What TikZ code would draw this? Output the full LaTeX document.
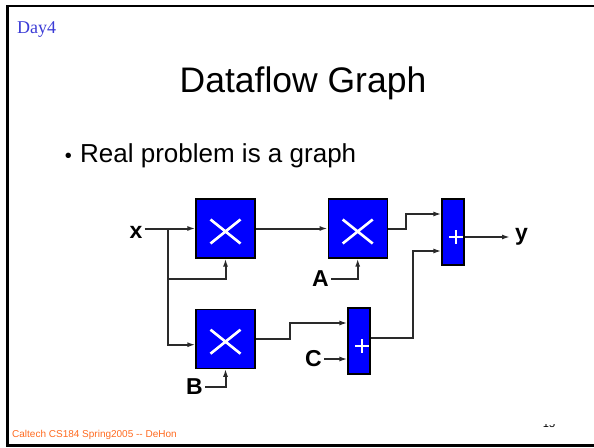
\documentclass[tikz,border=0pt]{standalone}
\usepackage{fontspec}
\setmainfont{Liberation Serif}
\newfontfamily\arial{Liberation Sans}
\usepackage{tikz}
\usetikzlibrary{positioning, arrows.meta, calc}
\definecolor{opblue}{HTML}{0000FF}
\definecolor{dayblue}{HTML}{3B3BD6}
\definecolor{footorange}{HTML}{FF6A1F}
\definecolor{wirecol}{HTML}{2A2A2A}
\tikzset{
  op mult/.style={
    draw=black, line width=1.2pt, fill=opblue,
    minimum width=59pt, minimum height=59pt, inner sep=0pt,
    path picture={
      \draw[white, line width=2.6pt]
        ([shift={(-15pt,9pt)}]path picture bounding box.center) --
        ([shift={(15pt,-15pt)}]path picture bounding box.center)
        ([shift={(-15pt,-15pt)}]path picture bounding box.center) --
        ([shift={(15pt,9pt)}]path picture bounding box.center);
    }
  },
  op add/.style={
    draw=black, line width=1.2pt, fill=opblue,
    minimum width=22pt, minimum height=66pt, inner sep=0pt,
    path picture={
      \draw[white, line width=2.8pt]
        ([shift={(-4pt,-5pt)}]path picture bounding box.center) --
        ([shift={(10pt,-5pt)}]path picture bounding box.center)
        ([shift={(3pt,2pt)}]path picture bounding box.center) --
        ([shift={(3pt,-12pt)}]path picture bounding box.center);
    }
  },
  wire/.style={line width=2pt, color=wirecol},
  wire in/.style={wire, -{Latex[length=8pt, width=5pt, fill=opblue]}},
  sig/.style={font=\arial\bfseries\fontsize{23}{23}\selectfont, inner sep=2pt},
  slide text/.style={inner sep=0pt, anchor=base west}
}
\begin{document}
\begin{tikzpicture}[x=1pt, y=-1pt]
  \useasboundingbox (0,0) rectangle (594,447);
  % slide frame
  \draw[line width=2.6pt] (600,6) -- (7.5,6) -- (7.5,445.5) -- (600,445.5);

  \node[slide text, font=\fontsize{18}{18}\selectfont, text=dayblue] (day) at (17,33) {Day4};
  \node[inner sep=0pt, anchor=base, font=\arial\fontsize{35.5}{35.5}\selectfont] (title) at (303,92) {Dataflow Graph};
  \node[slide text, font=\arial\fontsize{26}{26}\selectfont] (point) at (80,162) {Real problem is a graph};
  \node[inner sep=0pt, anchor=base east, font=\arial\fontsize{20}{20}\selectfont] (dot) at ([xshift=-8pt]point.base west) {•};

  % operators
  \node[op mult] (m1) at (225.5,228.5) {};
  \node[op mult, right=72pt of m1] (m2) {};
  \node[op mult, below=50pt of m1] (m3) {};
  \node[op add] (a1) at (453,232) {};
  \node[op add] (a2) at (359,341) {};

  % inputs and output
  \node[sig] (x) at (136,232) {x};
  \node[sig, anchor=east] (A) at (331,279) {A};
  \node[sig, anchor=east] (B) at (205,387) {B};
  \node[sig, anchor=east] (C) at (324,359) {C};
  \node[sig, anchor=west, inner sep=5pt] (y) at (510,237) {y};

  \coordinate (fork) at (168,229);
  \coordinate (tap) at (168,279);
  \coordinate (j1) at (406,214);
  \coordinate (j2) at (290,323);
  \coordinate (j3) at (413,251);
  \coordinate (sum) at ([yshift=-5pt]a1.east);

  \draw[wire in] (x.east |- m1.west) -- (m1.west);
  \draw[wire] (fork) -- (tap);
  \draw[wire in] (tap) |- ([yshift=-6pt]m3.west);
  \draw[wire in] (tap) -| (m1.south);
  \draw[wire in] (m1.east) -- (m2.west);
  \draw[wire in] (A.east) -| (m2.south);
  \draw[wire in] (m2.east) -| (j1) -- ([yshift=18pt]a1.west);
  \draw[wire in] (B.east) -| (m3.south);
  \draw[wire in] (m3.east) -| (j2) -- ([yshift=18pt]a2.west);
  \draw[wire in] (C.east) -- ([yshift=-18pt]a2.west);
  \draw[wire in] ([yshift=3pt]a2.east) -| (j3) -- ([yshift=-19pt]a1.west);
  \draw[wire in] (sum) -- (sum -| y.west);

  % footer
  \node[slide text, font=\arial\fontsize{10}{10}\selectfont, text=footorange] (foot) at (12,437) {Caltech CS184 Spring2005 -{}- DeHon};
  \begin{scope}
    \clip (535,424) rectangle (565,430);
    \node[inner sep=0pt, anchor=base, font=\arial\fontsize{11}{11}\selectfont] (page) at (549,427.5) {15};
  \end{scope}
\end{tikzpicture}
\end{document}
